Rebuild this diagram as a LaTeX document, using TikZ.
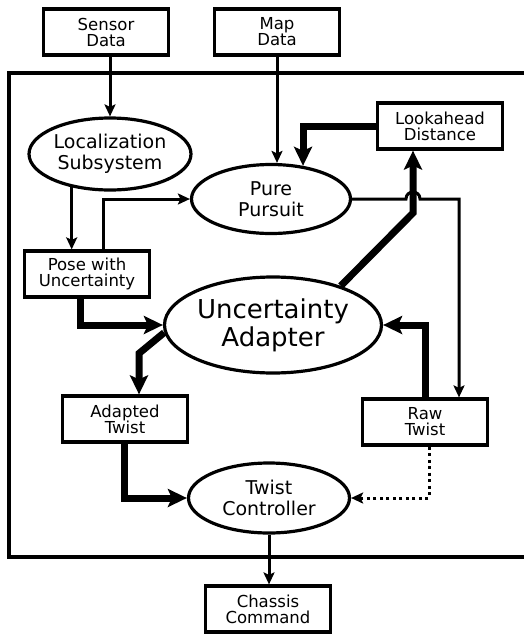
\documentclass[tikz,border=0pt]{standalone}
\usepackage{fontspec}
\setmainfont{DejaVu Sans}
\usepackage{tikz}
\usetikzlibrary{positioning,arrows.meta,shapes.geometric,calc}
\tikzstyle{signal}=[-{Stealth[length=12pt,width=11pt,inset=2.5pt]},draw=black,line width=3pt]
\tikzstyle{heavy}=[-{Stealth[length=19pt,width=18pt,inset=4pt]},draw=black,line width=7pt]

\begin{document}
\begin{tikzpicture}[
            x=1pt, y=-1pt,
            block/.style={rectangle, draw, line width=3.2pt, align=center,
                   minimum width=125pt, minimum height=46pt, inner sep=0pt,
                   font=\fontsize{16.5}{16}\selectfont},
            ellip/.style={ellipse, draw, line width=3.2pt, align=center, inner sep=0pt,
                   font=\fontsize{19}{20.5}\selectfont},
            frame/.style={draw=black, line width=3.2pt}
        ]
            \useasboundingbox (0,0) rectangle (524,635);
            \draw [frame] (524,73) -- (9,73) -- (9,557) -- (524,557);

            \node [block] (sensor) at (106,32) {Sensor\\Data};
            \node [block] (map) at (277,32) {Map\\Data};
            \node [block] (look) at (440,126) {Lookahead\\Distance};
            \node [ellip, minimum width=162pt, minimum height=72pt] (loc) at (110,154) {Localization\\Subsystem};
            \node [ellip, minimum width=159pt, minimum height=69pt] (pure) at (271,199) {Pure\\Pursuit};
            \node [block] (pose) at (87,274) {Pose with\\Uncertainty};
            \node [ellip, minimum width=217pt, minimum height=96pt,
                   font=\fontsize{26}{28}\selectfont] (adapter) at (273,325) {Uncertainty\\Adapter};
            \node [block] (adapted) at (125,419) {Adapted\\Twist};
            \node [block] (raw) at (425,422) {Raw\\Twist};
            \node [ellip, minimum width=161pt, minimum height=70pt] (ctrl) at (269,498) {Twist\\Controller};
            \node [block] (chassis) at (268,609) {Chassis\\Command};
            \coordinate (hop) at ([xshift=-27pt]look.south |- pure.east);

            % Draw edges
            \draw [signal] (loc.north |- sensor.south) -- (loc.north);
            \draw [signal] (map.south) -- (map.south |- pure.north);
            \draw [heavy] (look.west) -| (pure.46);
            \draw [signal] (loc.221) -- (loc.221 |- pose.north);
            \draw [signal] ([xshift=16pt]pose.north) |- (pure.west);
            \draw [signal] (pure.east) -- ([xshift=-7pt]hop) to[out=90,in=90,looseness=1.7] ([xshift=7pt]hop) -| ([xshift=34pt]raw.north);
            \draw [heavy] (adapter.30) -- ([yshift=-14pt]hop) -- (hop |- look.south);
            \draw [heavy] ([xshift=-7pt]pose.south) |- (adapter.west);
            \draw [heavy] (adapter.184) -- ([xshift=14pt,yshift=41pt]adapted.north) -- ([xshift=14pt]adapted.north);
            \draw [heavy] (raw.north) |- (adapter.east);
            \draw [heavy] ([xshift=-1pt]adapted.south) |- (ctrl.west);
            \draw [signal, dash pattern=on 3pt off 3.5pt] ([xshift=4pt]raw.south) |- (ctrl.east);
            \draw [signal] (ctrl.south) -- (ctrl.south |- chassis.north);
        \end{tikzpicture}
\end{document}
